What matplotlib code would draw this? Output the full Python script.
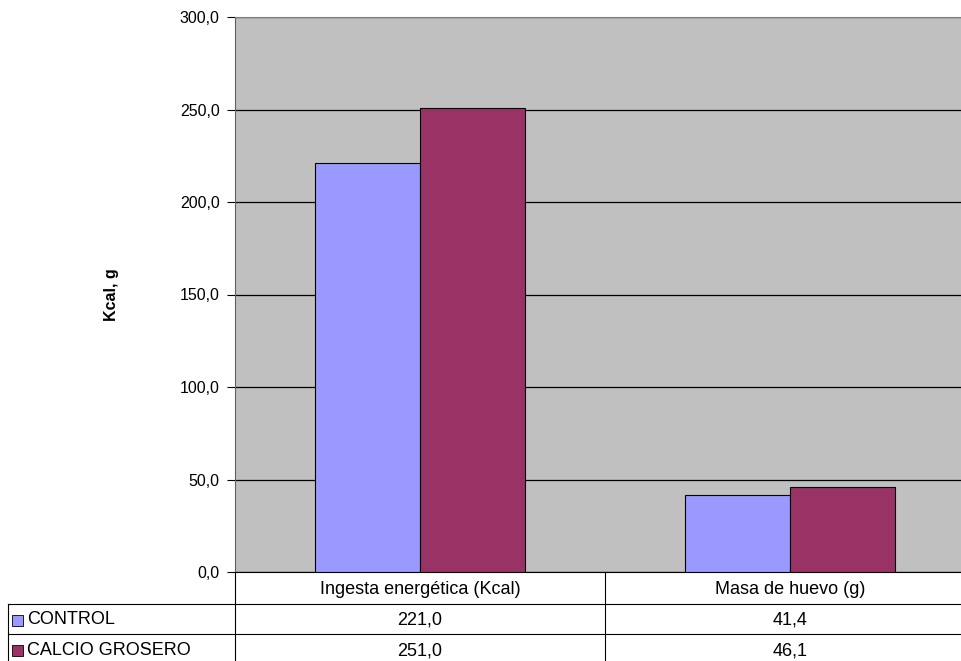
import numpy as np
import matplotlib.pyplot as plt
from matplotlib.lines import Line2D
from matplotlib.patches import Rectangle
from matplotlib.ticker import FuncFormatter

plt.rcParams['font.family'] = ['Liberation Sans', 'DejaVu Sans']

# datos
categorias = ['Ingesta energética (Kcal)', 'Masa de huevo (g)']
series = ['CONTROL', 'CALCIO GROSERO']
control = [221.0, 41.4]
calcio = [251.0, 46.1]
colores = ['#9999FF', '#993366']

W, H = 962, 661
fig = plt.figure(figsize=(W / 100, H / 100), dpi=100)

# area del grafico en pixeles
x0, x1, ytop, ybot = 235, 975, 17, 572
ax = fig.add_axes([x0 / W, (H - ybot) / H, (x1 - x0) / W, (ybot - ytop) / H])
ax.set_facecolor('#C0C0C0')

x = np.arange(len(categorias))
ancho = 0.285
for i, (vals, nombre) in enumerate(zip([control, calcio], series)):
    ax.bar(x + (i - 0.5) * ancho, vals, ancho, color=colores[i],
           edgecolor='black', linewidth=0.8, label=nombre, zorder=3)

ax.set_xlim(-0.5, len(categorias) - 0.5)
ax.set_ylim(0, 300)
ax.set_yticks(np.arange(0, 301, 50))
ax.yaxis.set_major_formatter(FuncFormatter(lambda v, p: f'{v:.1f}'.replace('.', ',')))
ax.grid(axis='y', color='black', linewidth=0.9, zorder=1)
ax.set_xticks([])
ax.tick_params(axis='y', length=6, width=0.8, labelsize=11.5, pad=5, color='black')
for s in ['top', 'right']:
    ax.spines[s].set_color('#808080')
ax.spines['left'].set_color('#606060')
ax.spines['bottom'].set_color('black')
ax.set_ylabel('Kcal, g', fontsize=11.5, fontweight='bold')
ax.yaxis.set_label_coords((119 - x0) / (x1 - x0), 0.5)


def fx(px):
    return px / W


def fy(py):
    return (H - py) / H


def linea(xa, ya, xb, yb):
    fig.add_artist(Line2D([fx(xa), fx(xb)], [fy(ya), fy(yb)], color='black',
                          linewidth=0.8, transform=fig.transFigure))


# tabla de datos
filas = [572, 604, 634, 665]
bordes_x = [ax.transData.transform((xb, 0))[0] for xb in np.arange(-0.5, len(categorias), 1.0)]
linea(8, filas[1], W + 20, filas[1])
linea(8, filas[2], W + 20, filas[2])
linea(8, filas[1], 8, filas[3])
for bx in bordes_x[:-1]:
    linea(bx, filas[0], bx, filas[3])

fs = 13
centros = [ax.transData.transform((xi, 0))[0] for xi in x]
for cx, cat in zip(centros, categorias):
    fig.text(fx(cx), fy((filas[0] + filas[1]) / 2 + 1), cat, ha='center', va='center', fontsize=fs)

for r, (nombre, vals) in enumerate(zip(series, [control, calcio])):
    yc = (filas[r + 1] + filas[r + 2]) / 2 + 1
    fig.add_artist(Rectangle((fx(12), fy(yc + 5.5)), 11 / W, 11 / H, facecolor=colores[r],
                             edgecolor='black', linewidth=0.6, transform=fig.transFigure))
    fig.text(fx(27), fy(yc), nombre, ha='left', va='center', fontsize=fs)
    for cx, v in zip(centros, vals):
        fig.text(fx(cx), fy(yc), f'{v:.1f}'.replace('.', ','), ha='center', va='center', fontsize=fs)

plt.savefig('out.png', dpi=100)
